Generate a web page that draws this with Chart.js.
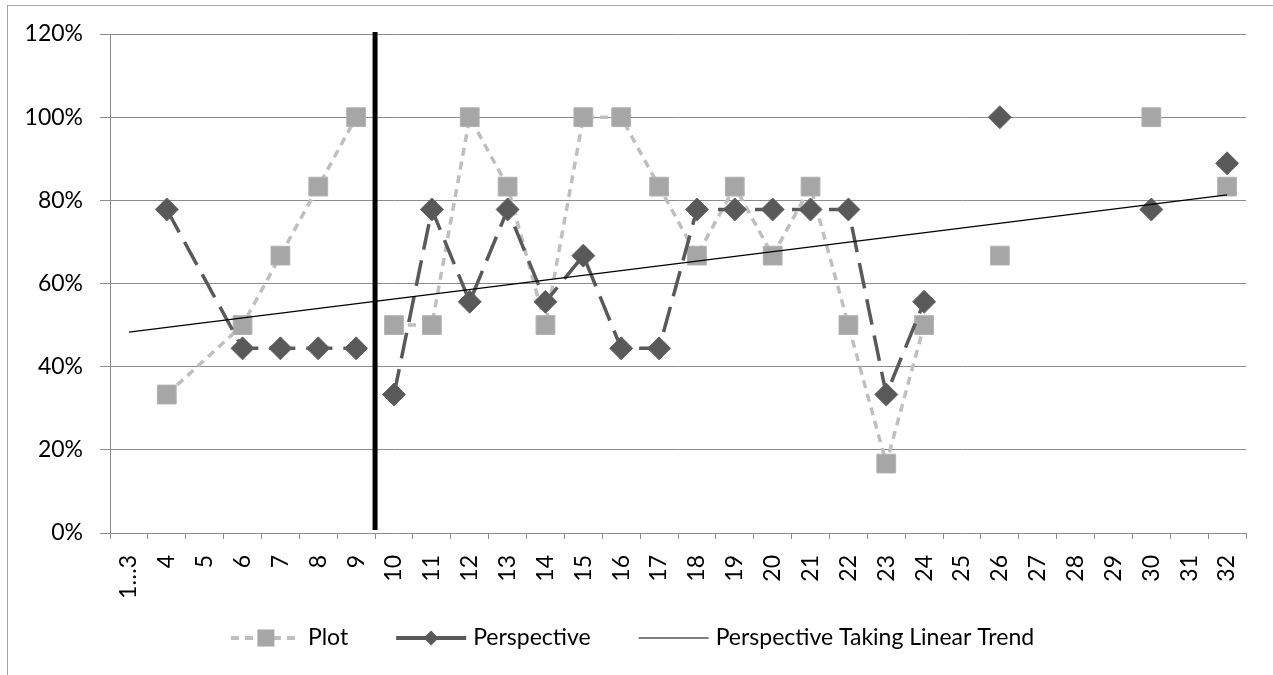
<!DOCTYPE html>
<html>
<head>
<meta charset="utf-8">
<script src="https://cdn.jsdelivr.net/npm/chart.js@4.4.1/dist/chart.umd.min.js"></script>
<style>
html,body{margin:0;padding:0;background:#fff;overflow:hidden;}
#wrap{position:relative;width:1273px;height:675px;}
#frame{position:absolute;left:7px;top:5px;width:1400px;height:800px;border:1px solid #a6a6a6;box-sizing:border-box;pointer-events:none;}
canvas{position:absolute;left:0;top:0;}
</style>
</head>
<body>
<div id="wrap">
<canvas id="chart" width="1273" height="675"></canvas>
<div id="frame"></div>
</div>
<script>
// categories (x axis)
const labels = ["1…3","4","5","6","7","8","9","10","11","12","13","14","15","16","17",
  "18","19","20","21","22","23","24","25","26","27","28","29","30","31","32"];

// percent values, null = no point
const plotValues = [null,33.3,null,50,66.7,83.3,100,50,50,100,83.3,50,100,100,83.3,
  66.7,83.3,66.7,83.3,50,16.7,50,null,66.7,null,null,null,100,null,83.3];
const perspectiveValues = [null,77.8,null,44.4,44.4,44.4,44.4,33.3,77.8,55.6,77.8,55.6,66.7,44.4,44.4,
  77.8,77.8,77.8,77.8,77.8,33.3,55.6,null,100,null,null,null,77.8,null,88.9];

// linear trend, value at first and last category
const trendEnds = [48.3, 81.3];

const yMin = 0, yMax = 120, yStep = 20;

// the lines are not drawn after these categories
const breakAfter = ["9","24","26","30"];
// thick black divider sits after this category
const dividerAfter = "9";

const plotLine = "#bfbfbf", plotMarker = "#a6a6a6";
const perspColor = "#595959";
const gridColor = "#8c8c8c";

const trendValues = labels.map((l, i) => i === 0 ? trendEnds[0] : (i === labels.length - 1 ? trendEnds[1] : null));

// segment callback: hide the piece of line that starts at a break category
function hideBreaks(ctx) {
  const data = ctx.chart.data.datasets[ctx.datasetIndex].data;
  let j = ctx.p1DataIndex - 1;
  while (j > 0 && data[j] == null) j--;
  return breakAfter.includes(labels[j]) ? "rgba(0,0,0,0)" : undefined;
}

Chart.defaults.font.family = "Lato";
Chart.defaults.font.size = 23;
Chart.defaults.color = "#000";

const dividerLine = {
  id: "dividerLine",
  afterDatasetsDraw(chart) {
    const c = chart.ctx, x = chart.scales.x, y = chart.scales.y;
    const i = labels.indexOf(dividerAfter);
    const px = (x.getPixelForValue(i) + x.getPixelForValue(i + 1)) / 2;
    c.save();
    c.strokeStyle = "#000";
    c.lineWidth = 5;
    c.beginPath();
    c.moveTo(px, y.getPixelForValue(yMax) - 2);
    c.lineTo(px, y.getPixelForValue(yMin) - 3);
    c.stroke();
    c.restore();
  }
};

const legendItems = [
  {text: "Plot", line: plotLine, width: 4, dash: [8, 6], marker: "rect", fill: plotMarker},
  {text: "Perspective", line: perspColor, width: 4, dash: [], marker: "diamond", fill: perspColor},
  {text: "Perspective Taking Linear Trend", line: "#000", width: 1.2, dash: [], marker: null}
];

const bottomLegend = {
  id: "bottomLegend",
  afterDraw(chart) {
    const c = chart.ctx;
    const sample = 70, textGap = 7, itemGap = 48, cy = 638;
    c.save();
    c.font = "23px Lato";
    c.textBaseline = "middle";
    c.fillStyle = "#000";
    let total = 0;
    legendItems.forEach((it, k) => {
      it.tw = c.measureText(it.text).width;
      total += sample + textGap + it.tw + (k ? itemGap : 0);
    });
    let x = (chart.width - total) / 2 - 4;
    legendItems.forEach(it => {
      c.strokeStyle = it.line;
      c.lineWidth = it.width;
      c.setLineDash(it.dash);
      c.beginPath();
      c.moveTo(x, cy);
      c.lineTo(x + sample, cy);
      c.stroke();
      c.setLineDash([]);
      const mx = x + sample / 2;
      if (it.marker === "rect") {
        c.fillStyle = it.fill;
        c.fillRect(mx - 8.5, cy - 8.5, 17, 17);
      } else if (it.marker === "diamond") {
        c.fillStyle = it.fill;
        c.beginPath();
        c.moveTo(mx - 7.5, cy); c.lineTo(mx, cy - 7.5); c.lineTo(mx + 7.5, cy); c.lineTo(mx, cy + 7.5);
        c.closePath();
        c.fill();
      }
      c.fillStyle = "#000";
      c.fillText(it.text, x + sample + textGap, cy);
      x += sample + textGap + it.tw + itemGap;
    });
    c.restore();
  }
};

new Chart(document.getElementById("chart"), {
  type: "line",
  data: {
    labels: labels,
    datasets: [
      {
        label: "Plot",
        data: plotValues,
        order: 3,
        borderColor: plotLine,
        borderWidth: 3.5,
        borderDash: [8, 6],
        spanGaps: true,
        tension: 0,
        pointStyle: "rect",
        pointRadius: 13.3,
        pointBackgroundColor: plotMarker,
        pointBorderColor: "#b3b3b3",
        pointBorderWidth: 1,
        segment: {borderColor: hideBreaks}
      },
      {
        label: "Perspective",
        data: perspectiveValues,
        order: 2,
        borderColor: perspColor,
        borderWidth: 3.5,
        borderDash: [26, 11],
        spanGaps: true,
        tension: 0,
        pointStyle: "rectRot",
        pointRadius: 11.5,
        pointBackgroundColor: perspColor,
        pointBorderColor: "#666",
        pointBorderWidth: 1,
        segment: {borderColor: hideBreaks}
      },
      {
        label: "Perspective Taking Linear Trend",
        data: trendValues,
        order: 1,
        borderColor: "#000",
        borderWidth: 1.2,
        spanGaps: true,
        tension: 0,
        pointRadius: 0
      }
    ]
  },
  options: {
    responsive: false,
    animation: false,
    layout: {padding: {top: 34, right: 27, left: 0, bottom: 0}},
    plugins: {
      legend: {display: false},
      tooltip: {enabled: false}
    },
    scales: {
      x: {
        offset: true,
        grid: {offset: true, drawOnChartArea: false, drawTicks: true, tickLength: 6, color: gridColor},
        border: {color: gridColor},
        ticks: {maxRotation: 90, minRotation: 90, autoSkip: false, padding: 16},
        afterFit(scale) { scale.height = 142; }
      },
      y: {
        min: yMin,
        max: yMax,
        grid: {color: gridColor, tickLength: 10},
        border: {color: gridColor},
        ticks: {stepSize: yStep, padding: 17, callback: v => v + "%"},
        afterFit(scale) { scale.width = 110; }
      }
    }
  },
  plugins: [dividerLine, bottomLegend]
});
</script>
</body>
</html>
